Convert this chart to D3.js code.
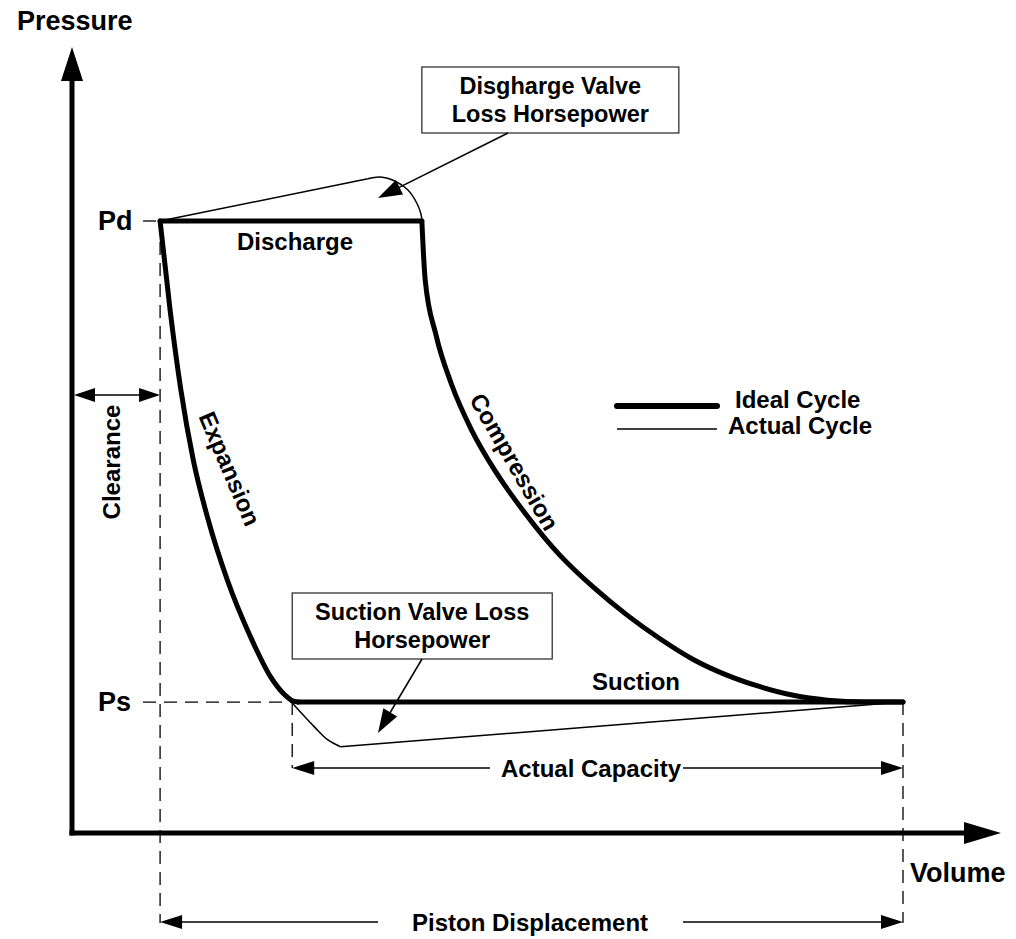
<!DOCTYPE html>
<html>
<head>
<meta charset="utf-8">
<script src="https://cdn.jsdelivr.net/npm/d3@7/dist/d3.min.js"></script>
<style>
  body { margin: 0; background: #fff; }
  text { font-family: "Liberation Sans", Arial, sans-serif; font-weight: bold; fill: #000; }
</style>
</head>
<body>
<div class="chart"></div>
<script>
// volume in % of piston stroke end, pressure in % of Pd
const levelNames = ['Pd', 'Ps'];
const levelValues = [100, 21.4];
const keyVolumes = [10.6, 26.5, 42.1, 100, 27.2]; // clearance, capacity start, discharge end, stroke end, suction start

const idealExpansion = [[10.6,100],[11.8,85.5],[13.1,72.4],[14.6,60.9],[16.3,51.6],[18.7,41.3],
    [21.5,32.0],[23.9,25.5],[25.5,22.7],[26.4,21.7],[27.2,21.4]];
const idealCompression = [[42.1,100],[42.5,90.4],[43.8,81.4],[45.7,73.2],[48.1,65.8],[51.0,59.0],
    [54.5,52.3],[58.7,45.4],[62.7,40.2],[66.8,35.6],[70.8,31.7],[74.7,28.4],[78.8,25.8],
    [82.8,23.9],[86.8,22.5],[90.9,21.7],[95.4,21.4],[100,21.4]];
const actualDischargeRise = [[10.6,100],[35.6,106.9]];
const actualDischargeArc = [[35.6,106.9],[37.1,107.2],[38.9,106.5],[40.4,105.1],[41.5,102.9],[42.0,101.1],[42.1,100]];
const actualSuctionDip = [[25.5,22.7],[26.4,21.4],[27.4,19.9],[29.2,17.3],[30.8,15.2],[32.3,14.1]];
const actualSuctionRise = [[32.3,14.1],[100,21.4]];

const stageLabels = ['Discharge', 'Compression', 'Suction', 'Expansion'];
const legendLabels = ['Ideal Cycle', 'Actual Cycle'];
const calloutLabels = [['Disgharge Valve', 'Loss Horsepower'], ['Suction Valve Loss', 'Horsepower']];
const dimLabels = ['Clearance', 'Actual Capacity', 'Piston Displacement'];
const axisLabels = ['Pressure', 'Volume'];

const width = 1016, height = 939;

const x = d3.scaleLinear().domain([0, 100]).range([72, 903]);
const y = d3.scaleLinear().domain([0, 100]).range([833, 221]);

const svg = d3.select('.chart')
    .append('svg')
    .attr('width', width)
    .attr('height', height);

const smooth = d3.line().x(d => x(d[0])).y(d => y(d[1])).curve(d3.curveMonotoneX);
const arc = d3.line().x(d => x(d[0])).y(d => y(d[1])).curve(d3.curveCatmullRom.alpha(0.5));
const straight = d3.line().x(d => x(d[0])).y(d => y(d[1]));

// filled arrow head at (x2,y2) coming from (x1,y1)
function head(g, x1, y1, x2, y2, len, half) {
    const d = Math.hypot(x2 - x1, y2 - y1);
    const ux = (x2 - x1) / d, uy = (y2 - y1) / d;
    const bx = x2 - ux * len, by = y2 - uy * len;
    g.append('path')
        .attr('d', `M${x2},${y2}L${bx - uy * half},${by + ux * half}L${bx + uy * half},${by - ux * half}Z`)
        .attr('fill', '#000');
}
function arrowLine(g, x1, y1, x2, y2, w, len, half) {
    const d = Math.hypot(x2 - x1, y2 - y1);
    g.append('line')
        .attr('x1', x1).attr('y1', y1)
        .attr('x2', x2 - (x2 - x1) / d * len * 0.8).attr('y2', y2 - (y2 - y1) / d * len * 0.8)
        .attr('stroke', '#000').attr('stroke-width', w);
    head(g, x1, y1, x2, y2, len, half);
}

// dashed guides
const guides = svg.append('g')
    .attr('stroke', '#000')
    .attr('stroke-width', 1.3)
    .attr('stroke-dasharray', '13,8')
    .attr('fill', 'none');
guides.append('line').attr('x1', 143).attr('x2', x(keyVolumes[0])).attr('y1', y(levelValues[0])).attr('y2', y(levelValues[0]));
guides.append('line').attr('x1', 143).attr('x2', x(keyVolumes[1])).attr('y1', y(levelValues[1])).attr('y2', y(levelValues[1]));
guides.append('line').attr('x1', x(keyVolumes[0])).attr('x2', x(keyVolumes[0])).attr('y1', y(levelValues[0])).attr('y2', 923);
guides.append('line').attr('x1', x(keyVolumes[1])).attr('x2', x(keyVolumes[1])).attr('y1', y(levelValues[1])).attr('y2', 768);
guides.append('line').attr('x1', x(keyVolumes[3])).attr('x2', x(keyVolumes[3])).attr('y1', y(levelValues[1])).attr('y2', 923);

// axes
const axes = svg.append('g');
axes.append('line').attr('x1', x(0)).attr('x2', x(0)).attr('y1', y(0) + 2.5).attr('y2', 75)
    .attr('stroke', '#000').attr('stroke-width', 5);
head(axes, x(0), 200, x(0), 47, 34, 11);
axes.append('line').attr('x1', x(0) - 2.5).attr('x2', 968).attr('y1', y(0)).attr('y2', y(0))
    .attr('stroke', '#000').attr('stroke-width', 5);
head(axes, 800, y(0), 1001, y(0), 37, 11);

// actual cycle (thin)
const actual = svg.append('g').attr('fill', 'none').attr('stroke', '#000').attr('stroke-width', 1.5);
actual.append('path').attr('d', straight(actualDischargeRise));
actual.append('path').attr('d', arc(actualDischargeArc));
actual.append('path').attr('d', arc(actualSuctionDip));
actual.append('path').attr('d', straight(actualSuctionRise));

// ideal cycle (thick)
const ideal = svg.append('g').attr('fill', 'none').attr('stroke', '#000').attr('stroke-width', 5)
    .attr('stroke-linecap', 'round').attr('stroke-linejoin', 'round');
ideal.append('path').attr('d', straight([[keyVolumes[0], levelValues[0]], [keyVolumes[2], levelValues[0]]]));
ideal.append('path').attr('d', smooth(idealCompression));
ideal.append('path').attr('d', straight([[keyVolumes[3], levelValues[1]], [keyVolumes[4], levelValues[1]]]));
ideal.append('path').attr('d', smooth(idealExpansion));

// axis titles and level names
svg.append('text').attr('x', 17).attr('y', 30).attr('font-size', 27).text(axisLabels[0]);
svg.append('text').attr('x', 910).attr('y', 882).attr('font-size', 27).text(axisLabels[1]);
svg.selectAll('.level')
    .data(levelNames)
    .enter()
    .append('text')
    .attr('class', 'level')
    .attr('x', 98)
    .attr('y', (d, i) => y(levelValues[i]) + 9)
    .attr('font-size', 27)
    .text(d => d);

// stage labels
svg.append('text').attr('x', 295).attr('y', 250).attr('text-anchor', 'middle').attr('font-size', 24).text(stageLabels[0]);
svg.append('text').attr('transform', 'translate(507,466) rotate(60)').attr('text-anchor', 'middle').attr('font-size', 24).text(stageLabels[1]);
svg.append('text').attr('x', 636).attr('y', 690).attr('text-anchor', 'middle').attr('font-size', 24).text(stageLabels[2]);
svg.append('text').attr('transform', 'translate(222,472) rotate(67)').attr('text-anchor', 'middle').attr('font-size', 24).text(stageLabels[3]);

// legend
const legend = svg.append('g');
legend.append('line').attr('x1', 617).attr('x2', 717).attr('y1', 406).attr('y2', 406)
    .attr('stroke', '#000').attr('stroke-width', 6).attr('stroke-linecap', 'round');
legend.append('line').attr('x1', 617).attr('x2', 717).attr('y1', 429).attr('y2', 429)
    .attr('stroke', '#000').attr('stroke-width', 1.5);
legend.append('text').attr('x', 735).attr('y', 408).attr('font-size', 24).text(legendLabels[0]);
legend.append('text').attr('x', 728).attr('y', 434).attr('font-size', 24).text(legendLabels[1]);

// callout boxes
const boxes = [
    {x: x(keyVolumes[2]), y: 67, w: 257, from: [508, 133], to: [378, 198]},
    {x: x(keyVolumes[1]), y: 593, w: 260, from: [422, 659], to: [378, 733]}
];
boxes.forEach((b, i) => {
    const g = svg.append('g');
    g.append('rect').attr('x', b.x).attr('y', b.y).attr('width', b.w).attr('height', 66)
        .attr('fill', '#fff').attr('stroke', '#222').attr('stroke-width', 1.2);
    g.selectAll('text')
        .data(calloutLabels[i])
        .enter()
        .append('text')
        .attr('x', b.x + b.w / 2)
        .attr('y', (d, j) => b.y + 27 + j * 28)
        .attr('text-anchor', 'middle')
        .attr('font-size', 23.5)
        .text(d => d);
    arrowLine(g, b.from[0], b.from[1], b.to[0], b.to[1], 1.5, 24, 8);
});

// dimension arrows
const dims = svg.append('g');
// clearance
arrowLine(dims, (x(0) + x(keyVolumes[0])) / 2, 395, x(0) + 2, 395, 1.5, 21, 7);
arrowLine(dims, (x(0) + x(keyVolumes[0])) / 2, 395, x(keyVolumes[0]), 395, 1.5, 21, 7);
dims.append('text').attr('transform', `translate(120,462) rotate(-90)`).attr('text-anchor', 'middle')
    .attr('font-size', 24).text(dimLabels[0]);
// actual capacity
arrowLine(dims, 490, 768, x(keyVolumes[1]), 768, 1.5, 22, 7);
arrowLine(dims, 683, 768, x(keyVolumes[3]), 768, 1.5, 22, 7);
dims.append('text').attr('x', 591).attr('y', 777).attr('text-anchor', 'middle').attr('font-size', 24).text(dimLabels[1]);
// piston displacement
arrowLine(dims, 378, 922, x(keyVolumes[0]), 922, 1.5, 22, 7);
arrowLine(dims, 683, 922, x(keyVolumes[3]), 922, 1.5, 22, 7);
dims.append('text').attr('x', 530).attr('y', 931).attr('text-anchor', 'middle').attr('font-size', 24).text(dimLabels[2]);
</script>
</body>
</html>
